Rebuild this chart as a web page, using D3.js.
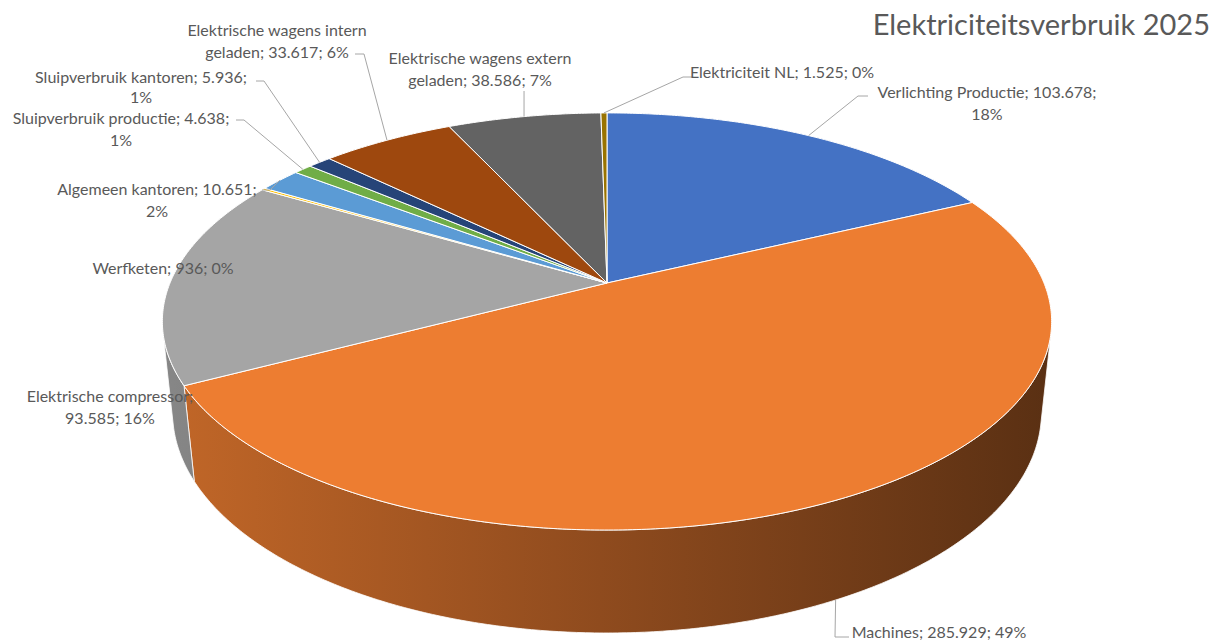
<!DOCTYPE html>
<html>
<head>
<meta charset="utf-8">
<script src="https://cdn.jsdelivr.net/npm/d3@7"></script>
<style>
  html, body { margin: 0; padding: 0; background: #fff; }
  svg { display: block; }
</style>
</head>
<body>
<div id="chart"></div>
<script>
// data
var names = ["Verlichting Productie", "Machines", "Elektrische compressor", "Werfketen",
  "Algemeen kantoren", "Sluipverbruik productie", "Sluipverbruik kantoren",
  "Elektrische wagens intern geladen", "Elektrische wagens extern geladen", "Elektriciteit NL"];
var values = [103678, 285929, 93585, 936, 10651, 4638, 5936, 33617, 38586, 1525];
var colors = ["#4472C4", "#ED7D31", "#A5A5A5", "#FFC000", "#5B9BD5", "#70AD47",
  "#264478", "#9E480E", "#636363", "#997300"];
var title = "Elektriciteitsverbruik 2025";

// label layout (center x, first line y, words on first line, leader elbows)
var labelLayout = [
  { x: 987, y: 92, words: 3, leader: [[868, 96], [858, 96]] },
  { x: 939, y: 632, words: 0, leader: [[849, 637], [835, 637]], bottom: true },
  { x: 110, y: 396, words: 2, leader: null },
  { x: 163, y: 268, words: 0, leader: null },
  { x: 157, y: 189, words: 3, leader: [[262, 190], [270, 190]] },
  { x: 121, y: 118, words: 3, leader: [[236, 120], [244, 120]] },
  { x: 141, y: 77, words: 3, leader: [[256, 81], [264, 81]] },
  { x: 277, y: 30, words: 3, leader: [[355, 54], [364, 54]] },
  { x: 480, y: 58, words: 3, leader: "up" },
  { x: 782, y: 72, words: 0, leader: [[692, 77], [683, 77]] }
];

var width = 1215, height = 642;

// 3d projection of the pie
var cx = 607, cy = 283, K = 437, D = 4.81, T = 0.237;
var sa = 0.461, ca = Math.sqrt(1 - sa * sa);

function proj(a, w) {
  var u = Math.sin(a), v = Math.cos(a);
  var Y = v * sa + w * ca;
  var Z = D + v * ca - w * sa;
  return [cx + K * u * D / Z, cy - K * Y * D / Z];
}

var total = d3.sum(values);
var fmt = d3.formatLocale({ decimal: ",", thousands: ".", grouping: [3], currency: ["€", ""] }).format(",d");

var pie = d3.pie().sort(null).value(function (d) { return d; });
var arcs = pie(values);

var svg = d3.select("#chart").append("svg")
  .attr("width", width)
  .attr("height", height);

var defs = svg.append("defs");
var shade = d3.scaleLinear().domain([160, 1050]).range([0.82, 0.38]);

colors.forEach(function (c, i) {
  var g = defs.append("linearGradient")
    .attr("id", "side" + i)
    .attr("gradientUnits", "userSpaceOnUse")
    .attr("x1", 160).attr("x2", 1050).attr("y1", 0).attr("y2", 0);
  [160, 600, 1050].forEach(function (x) {
    var col = d3.rgb(c);
    var k = shade(x);
    g.append("stop")
      .attr("offset", (x - 160) / 890)
      .attr("stop-color", d3.rgb(col.r * k, col.g * k, col.b * k));
  });
});

var line = d3.line();
var step = Math.PI / 360;

function samples(a0, a1) {
  var out = [];
  var n = Math.max(2, Math.ceil((a1 - a0) / step));
  for (var i = 0; i <= n; i++) out.push(a0 + (a1 - a0) * i / n);
  return out;
}

// side walls, only the part that faces the camera
var beta = Math.acos(1 / (D * ca));
var frontStart = Math.PI - beta, frontEnd = Math.PI + beta;

var walls = svg.append("g");
arcs.forEach(function (d, i) {
  var a0 = Math.max(d.startAngle, frontStart), a1 = Math.min(d.endAngle, frontEnd);
  if (a1 <= a0) return;
  var s = samples(a0, a1);
  var pts = s.map(function (a) { return proj(a, 0); })
    .concat(s.slice().reverse().map(function (a) { return proj(a, -T); }));
  walls.append("path")
    .attr("d", line(pts) + "Z")
    .attr("fill", "url(#side" + i + ")")
    .attr("stroke", "#fff")
    .attr("stroke-width", 0.8)
    .attr("stroke-linejoin", "round");
});

// top face
var topFace = svg.append("g");
arcs.forEach(function (d, i) {
  var pts = [[cx, cy]].concat(samples(d.startAngle, d.endAngle).map(function (a) { return proj(a, 0); }));
  topFace.append("path")
    .attr("d", line(pts) + "Z")
    .attr("fill", colors[i])
    .attr("stroke", "#fff")
    .attr("stroke-width", 1)
    .attr("stroke-linejoin", "round");
});

// leader lines
var leaders = svg.append("g")
  .attr("fill", "none")
  .attr("stroke", "#A6A6A6")
  .attr("stroke-width", 1);

arcs.forEach(function (d, i) {
  var L = labelLayout[i];
  if (!L.leader) return;
  var mid = (d.startAngle + d.endAngle) / 2;
  var anchor = proj(mid, L.bottom ? -T : 0);
  var pts;
  if (L.leader === "up") pts = [[anchor[0], L.y + 33], anchor];
  else pts = L.leader.concat([anchor]);
  leaders.append("path").attr("d", line(pts));
});

// labels
var labels = svg.append("g")
  .attr("font-family", "Lato, 'Open Sans', sans-serif")
  .attr("font-size", 16)
  .attr("fill", "#595959")
  .attr("text-anchor", "middle");

arcs.forEach(function (d, i) {
  var L = labelLayout[i];
  var pct = Math.round(values[i] / total * 100);
  var full = names[i] + "; " + fmt(values[i]) + "; " + pct + "%";
  var words = full.split(" ");
  var lines = L.words ? [words.slice(0, L.words).join(" "), words.slice(L.words).join(" ")] : [full];
  var t = labels.append("text").attr("x", L.x).attr("y", L.y);
  lines.forEach(function (s, j) {
    t.append("tspan").attr("x", L.x).attr("dy", j === 0 ? "0.35em" : (i === 6 ? 20 : 22)).text(s);
  });
});

svg.append("text")
  .attr("x", 1210)
  .attr("y", 35)
  .attr("text-anchor", "end")
  .attr("font-family", "Lato, 'Open Sans', sans-serif")
  .attr("font-size", 29)
  .attr("fill", "#595959")
  .text(title);
</script>
</body>
</html>
